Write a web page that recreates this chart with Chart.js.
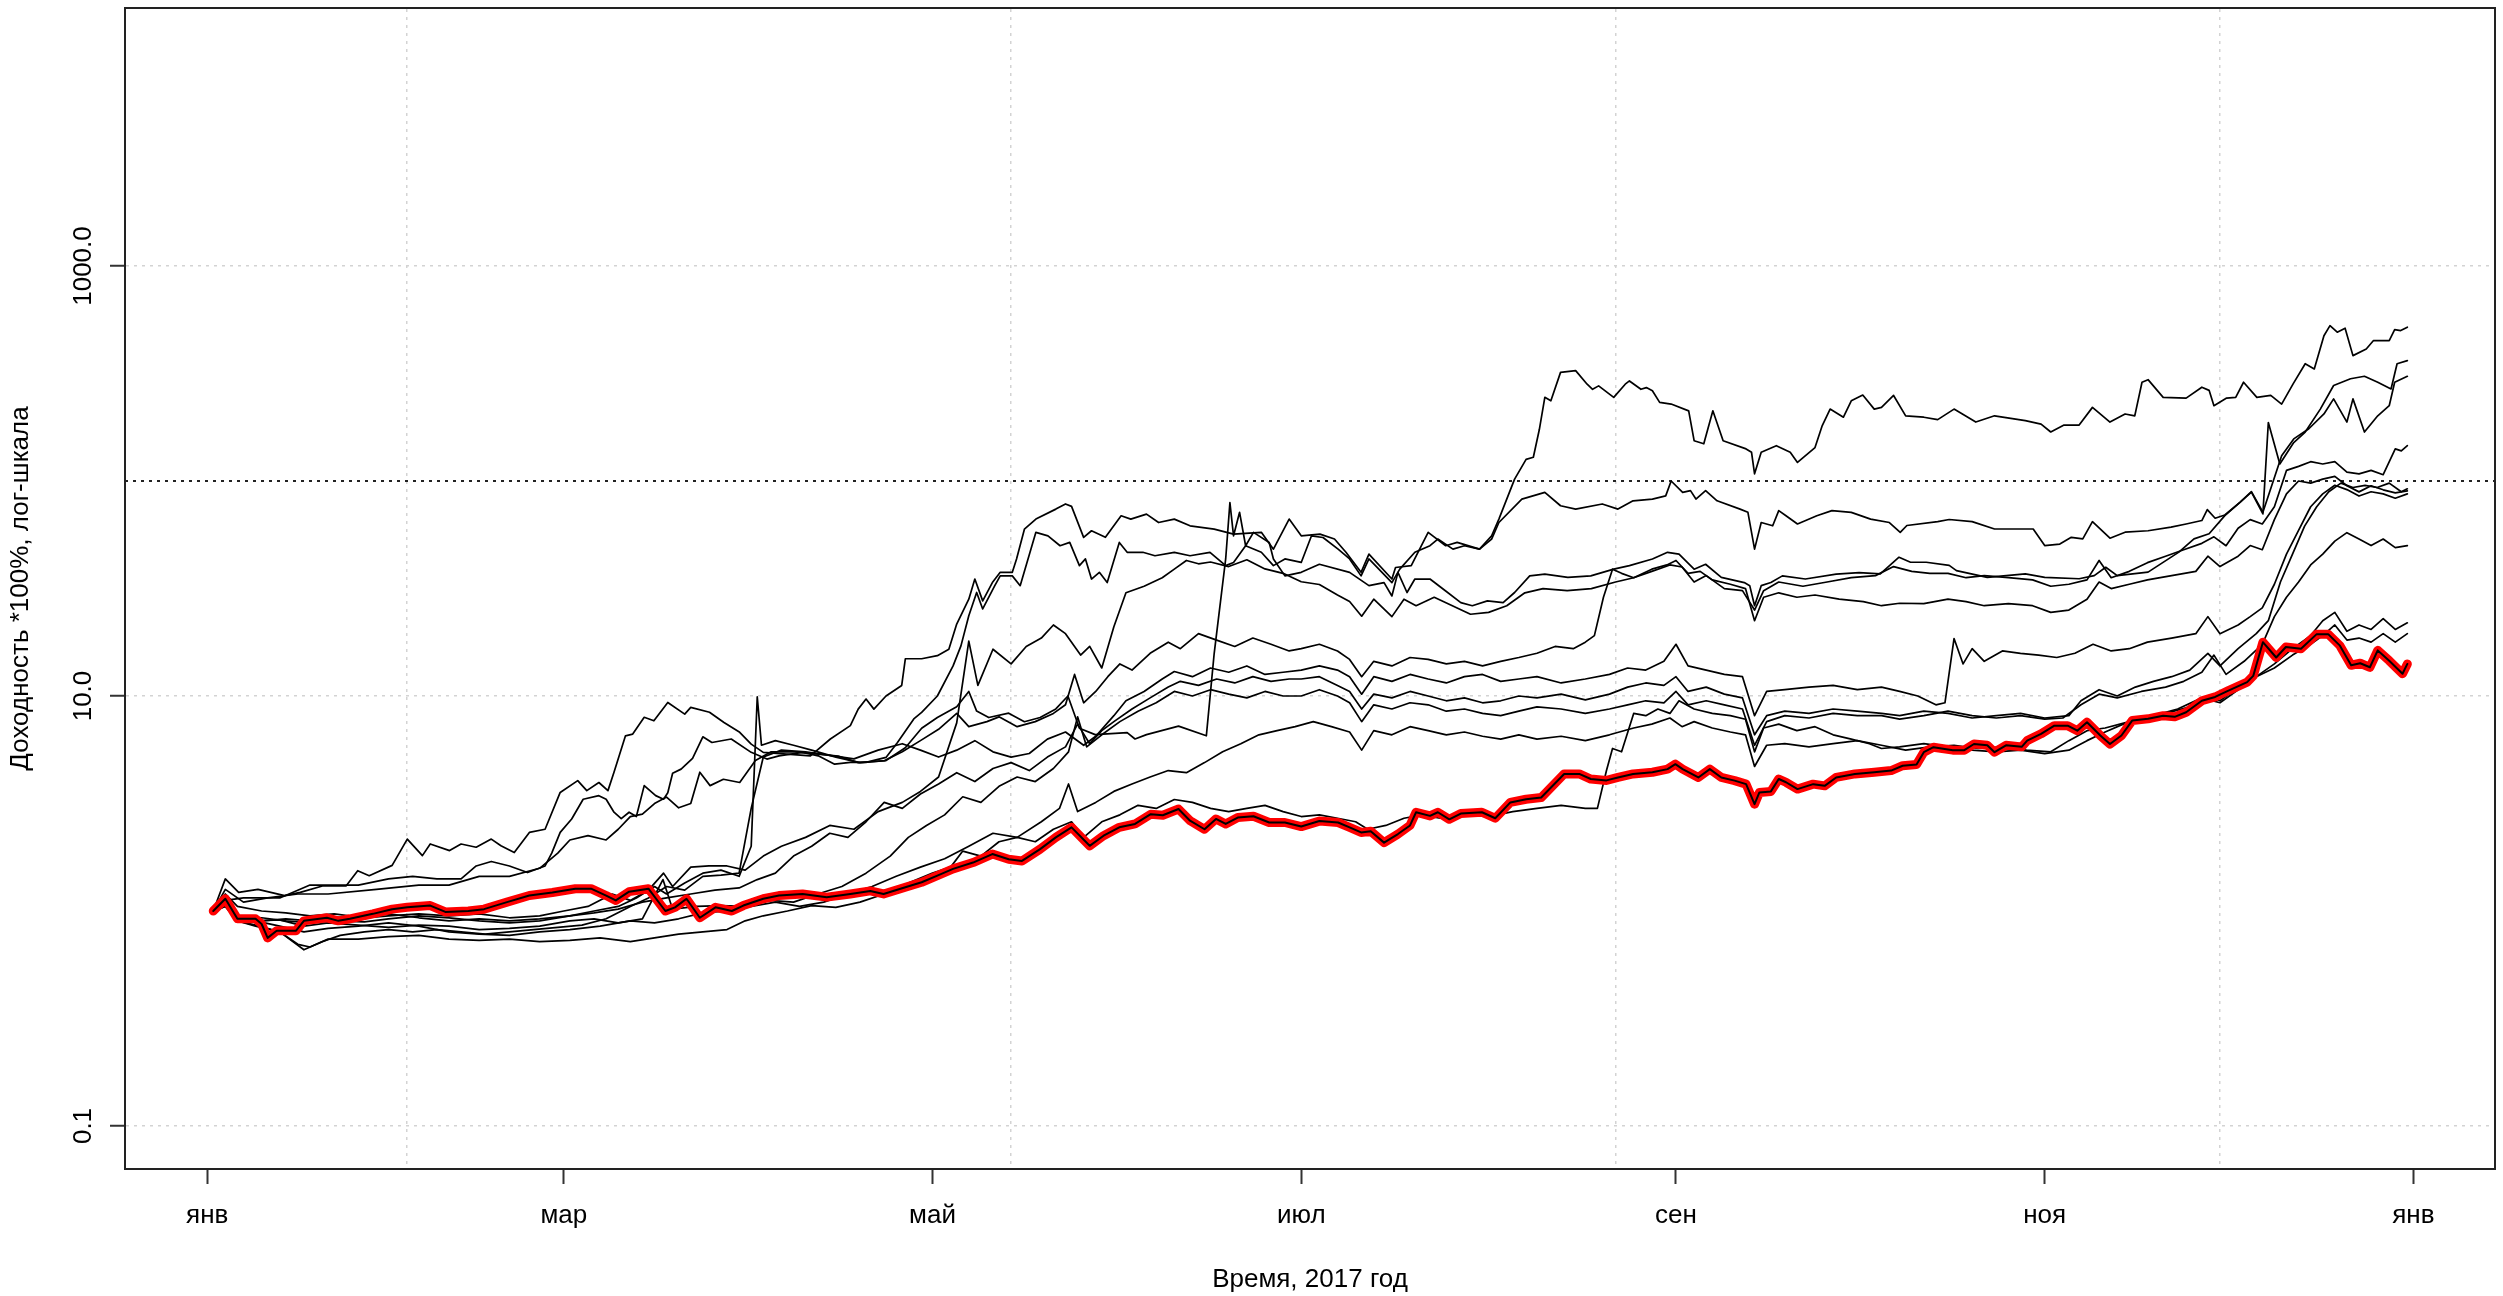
<!DOCTYPE html>
<html>
<head>
<meta charset="utf-8">
<script src="https://cdn.jsdelivr.net/npm/chart.js@4.4.1/dist/chart.umd.min.js"></script>
<style>
  html, body { margin: 0; padding: 0; background: #fff; }
  #wrap { width: 2503px; height: 1296px; }
</style>
</head>
<body>
<div id="wrap"><canvas id="chart" width="2503" height="1296"></canvas></div>
<script>
// x = days since 1 Jan 2017, y = return *100% (log scale)
const monthDays = [0, 59, 120, 181, 243, 304, 365];
const monthLabels = ['янв', 'мар', 'май', 'июл', 'сен', 'ноя', 'янв'];
const gridDays = [33, 133, 233, 333];
const yTickValues = [0.1, 10, 1000];
const dayRange = [-13.6, 378.5];
const valueRange = [0.0631, 15849];
const refLevel = 100;

const portfolio = [[1,1.0],[3,1.14],[5,0.92],[8,0.92],[9,0.87],[10,0.75],[11.5,0.81],[14.7,0.81],[16,0.9],[19.8,0.93],[21.7,0.9],[23.6,0.92],[27.4,0.97],[30.6,1.02],[33.1,1.04],[36.9,1.06],[39.4,0.99],[43.2,1.0],[45.8,1.02],[49.6,1.1],[53.3,1.18],[57.1,1.22],[60.9,1.27],[63.5,1.27],[66,1.18],[67.6,1.12],[69.8,1.23],[73,1.27],[75.8,1.0],[77.4,1.04],[79.3,1.14],[81.5,0.93],[84.1,1.04],[86.8,1.0],[88.7,1.06],[92,1.14],[94.6,1.18],[98.5,1.2],[102.5,1.16],[106.4,1.2],[109.7,1.24],[111.9,1.2],[115.5,1.29],[118.2,1.36],[120.8,1.46],[123.4,1.57],[126.7,1.68],[129.9,1.84],[132.6,1.74],[134.8,1.71],[137.8,1.94],[140.4,2.2],[143,2.45],[146,2.01],[148.3,2.24],[150.9,2.45],[153.5,2.54],[156.1,2.82],[158.1,2.79],[160.7,2.98],[162.6,2.63],[165,2.4],[166.9,2.68],[168.5,2.54],[170.5,2.72],[173.1,2.76],[175.7,2.58],[178.3,2.58],[181,2.47],[184,2.62],[187.1,2.58],[189,2.45],[190.9,2.32],[192.5,2.35],[194.7,2.08],[197,2.28],[199,2.5],[200,2.88],[202.3,2.77],[203.6,2.88],[205.5,2.67],[207.4,2.84],[210.9,2.88],[213.1,2.7],[215.6,3.2],[218.2,3.31],[220.7,3.37],[224.5,4.34],[227,4.34],[228.9,4.11],[231.5,4.05],[233.4,4.18],[235.9,4.34],[239.1,4.42],[241.6,4.57],[242.9,4.82],[244.1,4.57],[246.7,4.18],[248.6,4.57],[250.5,4.18],[252.7,4.04],[254.6,3.89],[256,3.14],[256.8,3.56],[258.7,3.6],[260,4.11],[261.2,3.97],[263.1,3.69],[265.7,3.89],[267.6,3.82],[269.5,4.18],[272.6,4.34],[275.8,4.42],[278.6,4.5],[280.5,4.74],[282.8,4.8],[284,5.48],[285.6,5.78],[288.8,5.6],[290.7,5.6],[292.3,5.98],[294.5,5.9],[295.7,5.48],[297.6,5.9],[300.2,5.8],[301.1,6.2],[303.4,6.67],[305.6,7.28],[307.8,7.28],[309.4,6.9],[311,7.55],[313.2,6.55],[314.8,5.98],[316.7,6.55],[318.5,7.7],[321.1,7.83],[323.6,8.1],[325.5,8.0],[327.4,8.4],[330,9.5],[332.2,9.9],[334.4,10.6],[337.5,11.6],[338.5,12.4],[340.1,17.8],[342.3,15.1],[343.9,16.9],[346.4,16.6],[349,19.4],[350.9,19.4],[352.8,17.2],[354.7,13.9],[356.2,14.2],[357.8,13.6],[359.1,16.3],[361,14.6],[363.2,12.7],[364,14.1]];

const fundA = [[1,1.0],[3,1.41],[5.2,1.22],[8.4,1.26],[12.8,1.18],[15.4,1.22],[19.2,1.31],[23,1.31],[24.9,1.54],[26.8,1.46],[30.6,1.63],[33.1,2.16],[35.6,1.81],[36.9,2.05],[40.1,1.91],[42,2.05],[44.5,1.98],[47,2.16],[48.6,2.01],[50.8,1.87],[53.3,2.32],[55.9,2.4],[58.4,3.56],[61.3,4.04],[62.8,3.63],[64.8,3.96],[66.3,3.63],[67.3,4.42],[69.2,6.53],[70.4,6.65],[72.3,7.96],[73.9,7.67],[76.2,9.33],[79,8.24],[80,8.85],[83.1,8.4],[85.5,7.53],[88.1,6.78],[90,5.97],[92,5.47],[95.9,5.37],[99.8,5.27],[103.1,6.31],[106.4,7.28],[107.7,8.69],[109,9.68],[110.3,8.69],[112.3,10.0],[114.9,11.2],[115.5,14.9],[118.2,14.9],[120.8,15.4],[122.7,16.5],[124,21.6],[126,28.2],[127,35.0],[128.3,27.7],[129.9,33.7],[131.2,37.6],[133.2,37.6],[133.9,43.4],[135.2,59.7],[137.1,66.5],[140.4,74.0],[142,78.2],[143,76.2],[145,54.7],[146.3,58.7],[148.6,54.7],[151.2,68.9],[152.8,66.5],[155.4,70.1],[157.4,64.1],[160,66.5],[162.6,61.9],[166.6,59.7],[169.8,56.6],[174.4,57.7],[176.4,48.2],[179,66.5],[181,55.6],[184.1,56.6],[186.5,53.7],[188.4,46.6],[190.9,37.6],[192.2,45.7],[196,35.0],[196.6,39.6],[199.2,40.4],[202,57.7],[204.9,50.0],[206.8,51.8],[210.5,48.2],[212.5,55.6],[213.7,66.5],[216.3,102],[218.2,126],[219.4,129],[220.4,174],[221.3,245],[222.3,236],[223.9,320],[226.4,326],[228.3,282],[229.2,267],[230.2,277],[232.7,245],[234.6,282],[235.3,292],[237.2,267],[238.1,272],[239.1,263],[240.3,232],[242.2,228],[245.1,212],[246,154],[247.6,149],[249.1,212],[250.8,154],[254.6,141],[255.5,136],[256,108],[257.1,136],[259.6,146],[261.9,136],[263.1,122],[266,143],[267.2,181],[268.5,216],[270.7,198],[272,236],[273.9,251],[275.8,216],[277,220],[279,250],[281,201],[284,198],[286.3,193],[289,216],[292.6,188],[295.7,201],[300.8,191],[303.4,184],[305,169],[307.2,182],[309.7,182],[311.9,220],[314.8,188],[317.3,205],[318.9,201],[320.1,288],[321.1,296],[323.6,245],[327.4,243],[330,273],[331.2,264],[332,224],[334.1,243],[335.6,245],[336.9,288],[339.1,245],[341.4,250],[343.2,228],[345.1,283],[347.1,351],[348.6,332],[350.2,474],[351.2,528],[352.4,492],[353.7,514],[355,383],[357.2,411],[358.4,450],[361,450],[361.9,506],[362.9,501],[364,519]];

const fundB = [[1,1.0],[3,1.12],[6,1.15],[12,1.15],[17,1.32],[20,1.32],[25,1.32],[30,1.41],[34,1.45],[38,1.41],[42,1.41],[44.5,1.62],[47,1.7],[50,1.62],[53,1.51],[55.9,1.62],[57,1.86],[58.4,2.32],[60.3,2.68],[62.2,3.31],[64.8,3.44],[66,3.31],[67.3,2.88],[68.5,2.69],[69.8,2.88],[71,2.75],[72.3,3.83],[74.2,3.44],[75.5,3.31],[76.2,3.55],[77,4.37],[78.4,4.57],[80.3,5.13],[82,6.46],[83.5,6.08],[86.7,6.31],[90,5.47],[92.6,5.09],[94.6,5.27],[98.5,5.47],[101.1,5.27],[103.8,4.82],[106.4,4.91],[109,4.91],[112.3,5.18],[114.2,6.08],[116.9,7.82],[118.2,8.39],[120.8,10.0],[123.4,13.8],[124.7,17.1],[126,23.6],[127.3,30.3],[128.3,25.4],[130.3,32.6],[131.2,36.2],[133.2,36.2],[134.5,32.6],[137.1,57.7],[139.1,55.6],[141.1,50.0],[142.7,51.8],[144.3,40.4],[145.3,43.4],[146.3,35.0],[147.6,37.6],[148.9,33.7],[150.9,51.8],[152.2,46.6],[154.8,46.6],[156.8,44.9],[160,46.6],[162.6,44.9],[165.9,46.6],[168.5,40.4],[169.8,41.8],[171.8,50.0],[174.4,46.6],[176.4,40.4],[178.3,43.4],[181,41.8],[182.7,55.6],[184.6,54.6],[187.1,48.2],[189,43.4],[190.9,36.2],[192.2,43.4],[196,33.7],[197.3,38.9],[199.8,46.6],[202.3,50.0],[203.6,53.7],[206.1,48.2],[208,50.0],[210.5,48.2],[212.5,53.7],[213.7,64.1],[217.5,82.4],[221.3,88.5],[223.9,76.7],[226.4,74.0],[230.8,78.2],[233.4,74.0],[235.9,80.9],[239.1,82.4],[241.3,85.3],[242.2,100],[244.1,88.5],[245.4,90.2],[246.3,82.4],[247.9,90.2],[249.8,80.9],[253.6,74.0],[254.9,71.5],[256,48.2],[257.1,64.1],[259,61.9],[260,72.8],[261.2,68.9],[263.1,63.1],[266.3,68.9],[268.8,72.8],[272,71.5],[275.2,66.5],[278.3,64.1],[280.1,57.7],[281.2,62.1],[286.3,64.7],[288.2,66.2],[292,64.7],[295.7,59.8],[302.1,59.8],[304,50.1],[306.5,50.9],[308.4,54.7],[310.3,53.8],[311.9,64.7],[314.8,54.2],[317.3,57.8],[321.1,58.7],[324.9,61.0],[327.4,63.1],[330,65.5],[330.9,73.6],[332.2,67.1],[333.8,69.5],[336.3,79.6],[338.2,88.7],[340.1,70.3],[341,187],[342.9,120],[345.2,151],[347.1,169],[349.6,216],[351.8,278],[354.6,299],[356.9,307],[359.1,288],[361.3,268],[362.3,351],[364,363]];

const fundC = [[1,1.0],[3,1.26],[6,1.1],[10,1.15],[15,1.2],[20,1.2],[28,1.26],[35,1.32],[40,1.32],[45,1.45],[50,1.45],[55,1.58],[58,1.86],[60,2.14],[63,2.24],[66,2.14],[68,2.4],[70,2.75],[72,2.82],[74,3.16],[76,3.39],[78,3.02],[80,3.16],[81.5,4.42],[83.2,3.83],[85.4,4.1],[88.1,3.96],[90.7,5.01],[93.3,5.5],[97.2,5.5],[101.1,5.37],[104.4,5.25],[107.7,4.9],[112.3,5.01],[115.5,5.75],[118.2,7.08],[120.8,7.94],[124,8.91],[126,10.5],[127.3,8.51],[129.3,7.94],[132.6,8.32],[135.2,7.59],[137.8,7.94],[140.4,8.71],[142.4,10.0],[144.3,7.08],[146.9,6.61],[152.2,6.76],[153.5,6.31],[155.4,6.61],[160.7,7.24],[165.3,6.53],[166.6,15.8],[168.5,43.4],[169.2,79.4],[169.8,55.6],[170.8,71.5],[171.8,50.0],[173.1,57.7],[175.7,51.8],[176.4,43.4],[178.3,36.2],[181,37.6],[184,41.0],[189,37.6],[192.2,32.6],[194.7,33.7],[196,29.2],[197,37.6],[198.5,30.3],[199.8,35.0],[202.3,35.0],[204.9,30.8],[207.4,27.2],[209.3,26.3],[211.8,27.7],[214.4,27.2],[216.3,30.3],[218.8,36.2],[221.3,36.9],[225.1,35.6],[228.9,36.2],[232.7,38.9],[235.3,40.4],[239.1,43.4],[241.6,46.6],[243.5,45.7],[246,38.9],[247.9,41.0],[250.5,35.6],[254.3,33.7],[255.2,32.6],[256,26.3],[257.1,32.6],[258.7,33.7],[260.6,36.2],[264.4,35.0],[269.5,36.9],[273.3,37.5],[276.8,37.0],[279.9,44.2],[281.8,41.9],[284.4,41.9],[288.2,40.5],[289.4,38.3],[294.5,35.6],[300.8,37.0],[304,35.6],[309.7,35.1],[312.2,36.3],[314.1,39.7],[316,36.3],[321.1,37.7],[326.2,46.7],[328.7,53.8],[331.2,56.8],[333.8,69.0],[336.3,79.6],[338.2,89.3],[340.1,71.6],[343.2,131],[345.2,157],[347.7,175],[350.2,205],[351.8,241],[354,188],[355,241],[356.9,169],[359.1,201],[361,224],[361.9,288],[364,307]];

const fundD = [[1,1.0],[3,1.2],[5,1.05],[9,1.0],[13,0.98],[17,0.95],[21,0.97],[26,0.93],[30,0.95],[35,0.97],[40,0.95],[45,0.97],[50,0.93],[55,0.95],[59,1.0],[63,1.05],[67,1.2],[70,1.12],[73,1.25],[75.5,1.5],[77,1.3],[80,1.6],[83,1.62],[86,1.62],[89,1.55],[92,1.8],[95,2.0],[99,2.2],[103,2.5],[107,2.4],[111,2.9],[115,3.2],[118,3.6],[121,4.2],[124,7.5],[126,18.0],[127.5,11.2],[130,16.5],[133,14.1],[135.5,17.0],[138,18.6],[140,21.4],[142,19.5],[144.5,15.5],[146,17.0],[148,13.5],[150,21.0],[152,30.2],[155,32.4],[158,35.5],[160,38.9],[162,42.7],[164,41.2],[166,42.0],[169,40.0],[172,43.0],[175,39.0],[178,37.2],[181,34.0],[184,33.0],[187,29.5],[189,27.5],[191,23.5],[193,28.2],[196,23.4],[198,28.2],[200,26.3],[203,28.8],[206,26.3],[209,24.0],[212,24.5],[215,26.3],[218,30.2],[221,31.6],[225,30.9],[229,31.6],[233,33.9],[236,35.5],[239,38.0],[242,40.7],[244,39.8],[246,33.9],[248,36.3],[251,31.6],[254,30.9],[256,25.1],[257.5,30.9],[260,33.9],[264,32.4],[268,33.9],[272,35.5],[276,36.3],[279,40.0],[282,38.0],[285,37.2],[288,37.2],[291,35.5],[294,36.3],[298,35.5],[302,34.7],[305,32.4],[308,33.1],[311,34.7],[313,42.7],[315,35.5],[318,38.0],[321,41.7],[324,44.7],[327,47.9],[330,51.3],[332,55.0],[334,50.0],[336,60.3],[338,66.1],[340,63.1],[342,75.9],[344,112],[346,117],[348,123],[350,120],[352,123],[354,110],[356,108],[358,112],[360,107],[362,141],[363,138],[364,146]];

const fundE = [[1,1.0],[3,1.1],[5,0.95],[9,0.93],[13,0.9],[17,0.88],[21,0.9],[26,0.89],[30,0.92],[35,0.95],[40,0.93],[45,0.9],[50,0.88],[55,0.9],[60,0.95],[64,1.0],[68,1.05],[71,1.15],[74,1.3],[76,1.2],[79,1.35],[82,1.5],[85,1.55],[88,1.45],[90,2.0],[91,9.9],[91.7,5.9],[94,6.2],[97,5.9],[100,5.6],[104,5.2],[108,4.9],[112,5.0],[115,5.5],[118,6.2],[121,7.0],[124,8.3],[126,7.2],[129,7.6],[131,8.0],[134,7.2],[137,7.6],[140,8.3],[142,9.1],[143.5,12.6],[145,9.3],[147,10.5],[149,12.3],[151,14.1],[153,13.2],[156,15.8],[159,17.8],[161,16.6],[164,19.5],[167,18.2],[170,17.0],[173,18.6],[176,17.4],[179,16.2],[181,16.6],[184,17.4],[187,16.2],[189,14.8],[191,12.3],[193,14.5],[196,13.8],[199,15.1],[202,14.8],[205,14.1],[208,14.5],[211,13.8],[214,14.5],[217,15.1],[220,15.8],[223,17.0],[226,16.6],[228,17.8],[229.5,19.1],[231,28.8],[232.5,38.9],[234,37.2],[236,35.5],[239,38.9],[241.5,40.7],[243,42.7],[245,37.2],[247,38.0],[249,34.7],[252,33.1],[254.5,31.6],[256,22.4],[257.5,28.8],[260,30.2],[263,28.8],[266,29.5],[270,28.2],[274,27.5],[277,26.3],[280,27.0],[284,26.9],[288,28.2],[291,27.5],[294,26.3],[298,26.9],[302,26.3],[305,24.5],[308,25.1],[311,28.2],[313,33.9],[315,31.6],[318,33.1],[321,34.7],[325,36.3],[329,38.0],[331,44.7],[333,40.0],[336,44.7],[338,50.1],[340,47.9],[342,66.1],[344,87.1],[346,100],[348,97.7],[350,102],[352,105],[354,95],[356,89],[358,95],[360,91],[362,88],[364,90]];

const fundF = [[1,1.0],[3,1.05],[5,0.9],[8,0.86],[12,0.8],[16,0.66],[19,0.72],[22,0.77],[26,0.8],[30,0.82],[34,0.8],[38,0.82],[42,0.8],[46,0.78],[50,0.8],[54,0.82],[58,0.84],[62,0.86],[66,0.92],[70,1.05],[73,1.15],[76,1.3],[79,1.25],[82,1.45],[85,1.47],[88,1.5],[90,3.0],[92,5.2],[95,5.6],[99,5.5],[103,5.3],[107,5.1],[111,5.6],[115,6.0],[118,5.6],[121,5.2],[124,5.6],[127,6.2],[130,5.5],[133,5.2],[136,5.4],[139,6.3],[142,6.8],[145,5.9],[147,6.5],[150,8.1],[152,9.5],[155,10.5],[158,12.0],[160,13.0],[163,12.3],[166,13.5],[169,12.9],[172,13.8],[175,12.6],[178,12.9],[181,13.2],[184,13.8],[187,13.2],[189,12.3],[191,10.2],[193,12.3],[196,11.7],[199,12.6],[202,12.0],[205,11.5],[208,12.3],[211,12.6],[214,11.7],[217,12.0],[220,12.3],[224,11.5],[228,12.0],[232,12.6],[235,13.5],[238,13.2],[241,14.5],[243,17.4],[245,13.8],[248,13.2],[251,12.6],[254,12.3],[256,8.1],[258,10.5],[261,10.7],[265,11.0],[269,11.2],[273,10.7],[277,11.0],[280,10.5],[283,10.0],[286,9.1],[287.5,9.3],[289,18.5],[290.5,14.1],[292,16.6],[294,14.5],[297,16.2],[300,15.8],[303,15.5],[306,15.1],[309,15.8],[312,17.4],[315,16.2],[318,16.6],[321,17.8],[325,18.6],[329,19.5],[331,23.4],[333,19.5],[336,21.4],[338,23.4],[340,25.7],[342,33.1],[344,45.7],[346,58.9],[348,75.9],[350,87.1],[352,95.5],[354,91.2],[356,85.1],[358,89.1],[360,87.1],[362,83.2],[364,87.1]];

const fundK = [[1,1.0],[3,1.08],[5,0.93],[9,0.9],[13,0.92],[17,0.9],[21,0.93],[26,0.95],[30,0.97],[35,0.93],[40,0.9],[45,0.92],[50,0.9],[55,0.92],[60,0.95],[64,0.98],[68,1.02],[72,1.1],[76,1.15],[80,1.2],[84,1.25],[88,1.28],[91,1.4],[94,1.5],[97,1.8],[100,2.0],[103,2.3],[106,2.2],[109,2.6],[112,3.2],[115,3.0],[118,3.5],[121,3.9],[124,4.4],[127,4.0],[130,4.6],[133,4.9],[136,4.5],[139,5.2],[142,5.8],[144,7.4],[146,6.0],[148,6.9],[150,7.6],[153,8.7],[156,9.8],[159,11.0],[161,11.7],[164,11.2],[167,12.0],[170,11.5],[173,12.3],[176,11.7],[179,12.0],[181,12.0],[184,12.3],[187,11.2],[189,10.5],[191,8.7],[193,10.2],[196,9.8],[199,10.5],[202,10.0],[205,9.5],[208,9.8],[211,9.3],[214,9.5],[217,10.0],[220,9.8],[224,10.2],[228,9.6],[232,10.2],[235,11.0],[238,11.5],[241,11.2],[243,12.3],[245,10.5],[248,11.0],[251,10.2],[254,9.8],[256,6.6],[258,8.1],[261,8.5],[265,8.3],[269,8.7],[273,8.5],[277,8.3],[280,8.1],[284,8.5],[288,8.3],[292,7.9],[296,8.1],[300,8.3],[304,7.9],[308,8.1],[310,9.5],[313,10.7],[316,10.0],[319,11.0],[322,11.7],[325,12.3],[328,13.2],[331,15.8],[333,13.8],[336,16.6],[339,19.5],[341,22.4],[343,33.9],[345,45.7],[347,61.7],[349,75.9],[351,89.1],[353,97.7],[355,93.3],[357,95.5],[359,93.3],[361,97.7],[363,89.1],[364,92]];

const fundG = [[1,1.0],[3,1.15],[5,0.93],[8,0.9],[12,0.91],[16,0.85],[20,0.88],[25,0.86],[30,0.84],[35,0.86],[40,0.85],[45,0.82],[50,0.83],[55,0.85],[60,0.9],[64,0.92],[68,0.88],[72,0.92],[75.4,1.4],[77,1.02],[81,1.05],[85,1.06],[89,1.05],[93,1.12],[97,1.1],[101,1.2],[105,1.3],[109,1.5],[113,1.8],[116,2.2],[119,2.5],[122,2.8],[125,3.4],[128,3.2],[131,3.8],[134,4.2],[137,4.0],[140,4.6],[142.5,5.5],[144,8.0],[145.5,5.8],[148,6.6],[151,7.6],[154,8.5],[157,9.3],[160,10.5],[163,10.0],[166,10.7],[169,10.2],[172,9.8],[175,10.5],[178,10.0],[181,10.0],[184,10.7],[187,10.0],[189,9.3],[191,7.6],[193,9.1],[196,8.7],[199,9.3],[202,9.1],[205,8.5],[208,8.7],[211,8.3],[214,8.1],[217,8.5],[220,8.9],[224,8.7],[228,8.3],[232,8.7],[235,9.1],[238,9.5],[241,9.3],[243,10.5],[245,9.1],[248,9.5],[251,9.1],[254,8.7],[256,5.9],[258,7.6],[261,8.1],[265,7.9],[269,8.3],[273,8.1],[277,8.1],[280,7.8],[284,8.1],[288,8.5],[292,8.1],[296,7.9],[300,8.1],[304,7.8],[307,7.9],[310,9.1],[313,10.2],[316,9.8],[320,10.5],[324,11.0],[327,11.7],[330,12.9],[332,15.5],[334,12.6],[337,14.5],[340,17.4],[342,23.4],[344,28.8],[346,33.9],[348,40.7],[350,45.7],[352,52.5],[354,57.5],[356,53.7],[358,50.1],[360,53.7],[362,49.0],[364,50.1]];

const fundH = [[1,1.0],[3,1.1],[5,0.95],[8,0.9],[12,0.85],[16,0.8],[20,0.83],[25,0.85],[30,0.88],[35,0.85],[40,0.8],[45,0.78],[50,0.77],[55,0.8],[60,0.82],[65,0.85],[70,0.9],[74,0.88],[78,0.92],[82,0.98],[86,1.0],[90,1.05],[94,1.1],[98,1.05],[102,1.1],[106,1.2],[110,1.3],[114,1.45],[118,1.6],[122,1.75],[126,2.0],[130,2.3],[134,2.2],[138,2.6],[141,3.0],[142.5,3.9],[144,2.9],[147,3.2],[150,3.6],[153,3.9],[156,4.2],[159,4.5],[162,4.4],[165,4.9],[168,5.5],[171,6.0],[174,6.6],[177,6.9],[180,7.2],[183,7.6],[186,7.2],[189,6.8],[191,5.6],[193,6.9],[196,6.6],[199,7.2],[202,6.9],[205,6.6],[208,6.8],[211,6.5],[214,6.3],[217,6.6],[220,6.3],[224,6.5],[228,6.2],[232,6.6],[236,7.1],[239,7.4],[242,7.9],[244,7.2],[246,7.6],[249,7.1],[252,6.8],[254.5,6.6],[256,4.7],[258,5.9],[261,6.0],[265,5.8],[269,6.0],[273,6.2],[277,5.9],[281,5.6],[285,5.8],[289,5.9],[293,5.7],[297,5.8],[301,5.6],[305,5.5],[308,6.2],[311,6.9],[314,7.1],[318,7.6],[322,8.1],[326,8.7],[330,9.8],[333,9.3],[336,10.7],[339,12.3],[342,14.1],[345,16.6],[348,19.1],[350,22.4],[352,24.5],[354,20.0],[356,21.4],[358,20.4],[360,22.9],[362,20.4],[364,21.9]];

const fundI = [[1,1.0],[3,1.05],[5,0.9],[8,0.85],[12,0.8],[15,0.7],[17,0.68],[20,0.74],[25,0.74],[30,0.76],[35,0.77],[40,0.74],[45,0.73],[50,0.74],[55,0.72],[60,0.73],[65,0.75],[70,0.72],[74,0.75],[78,0.78],[82,0.8],[86,0.82],[89,0.9],[92,0.95],[96,1.0],[100,1.06],[104,1.04],[108,1.1],[112,1.2],[116,1.35],[120,1.5],[123,1.6],[125,1.9],[128,1.8],[131,2.1],[134,2.2],[137,2.1],[140,2.4],[143,2.6],[145,2.2],[148,2.6],[151,2.8],[154,3.1],[157,3.0],[160,3.3],[163,3.2],[166,3.0],[169,2.9],[172,3.0],[175,3.1],[178,2.9],[181,2.75],[184,2.8],[187,2.7],[190,2.6],[192,2.4],[195,2.5],[198,2.7],[201,2.8],[204,2.7],[208,2.8],[212,2.75],[216,2.9],[220,3.0],[224,3.1],[228,3.0],[230,3.0],[231.5,4.5],[232.5,5.7],[234,5.5],[236,8.3],[238,8.1],[240,8.7],[242,8.3],[243.5,9.5],[246,8.7],[249,8.3],[252,8.1],[254.5,7.8],[256,5.5],[257.5,7.1],[260,7.4],[263,6.9],[266,7.2],[269,6.6],[272,6.3],[275,6.0],[277,5.7],[280,5.8],[284,6.0],[288,5.8],[292,5.6],[296,5.5],[300,5.6],[304,5.4],[308,5.6],[311,6.2],[314,6.8],[317,7.4],[320,7.8],[324,8.3],[328,8.9],[331,10.0],[333,9.5],[336,11.0],[339,12.3],[342,13.5],[345,15.5],[348,17.4],[350,19.1],[352,21.4],[354,18.2],[356,18.6],[358,17.8],[360,19.5],[362,17.8],[364,19.5]];

const funds = [fundA, fundB, fundC, fundD, fundE, fundF, fundK, fundG, fundH, fundI];

Chart.defaults.font.family = "'Liberation Sans', Arial, sans-serif";
Chart.defaults.color = '#000';

const line = (data, color, width, extra) => Object.assign({
  data, borderColor: color, borderWidth: width, pointRadius: 0, tension: 0, fill: false,
  borderJoinStyle: 'round', borderCapStyle: 'round'
}, extra || {});

const datasets = [
  line(portfolio, '#000', 2),
  line(portfolio, '#ff0000', 9),
  ...funds.map(f => line(f, '#000', 1.7)),
  line([[dayRange[0], refLevel], [dayRange[1], refLevel]], '#222', 2, { borderDash: [3, 5], borderCapStyle: 'butt' })
];

const axisFont = { size: 26 };

new Chart(document.getElementById('chart'), {
  type: 'line',
  data: { datasets },
  options: {
    responsive: false,
    animation: false,
    devicePixelRatio: 1,
    events: [],
    layout: { padding: { top: 8, right: 8, left: 0, bottom: 0 } },
    plugins: { legend: { display: false }, tooltip: { enabled: false } },
    scales: {
      x: {
        type: 'linear', position: 'bottom', min: dayRange[0], max: dayRange[1],
        afterBuildTicks: s => { s.ticks = monthDays.map(v => ({ value: v })); },
        afterFit: s => { s.height = 127; },
        ticks: {
          callback: (v, i) => monthLabels[i], font: axisFont, color: '#000',
          padding: 16, maxRotation: 0, autoSkip: false
        },
        grid: { drawOnChartArea: false, drawTicks: true, tickLength: 15, tickColor: '#333', tickWidth: 2 },
        border: { display: true, color: '#222', width: 2 },
        title: { display: true, text: 'Время, 2017 год', font: axisFont, color: '#000', padding: { top: 0, bottom: 1 } }
      },
      xGrid: {
        type: 'linear', position: 'top', min: dayRange[0], max: dayRange[1],
        afterBuildTicks: s => { s.ticks = gridDays.map(v => ({ value: v })); },
        afterFit: s => { s.height = 0; },
        ticks: { display: false },
        grid: { color: '#d3d3d3', lineWidth: 1.5, drawTicks: false },
        border: { display: true, color: '#222', width: 2, dash: [3, 5] }
      },
      y: {
        type: 'logarithmic', position: 'left', min: valueRange[0], max: valueRange[1], bounds: 'data',
        afterBuildTicks: s => { s.ticks = yTickValues.map(v => ({ value: v })); },
        afterFit: s => { s.width = 125; },
        ticks: {
          callback: v => Number(v).toFixed(1), font: axisFont, color: '#000',
          minRotation: 90, maxRotation: 90, crossAlign: 'center', padding: -14, autoSkip: false
        },
        grid: { color: '#d3d3d3', lineWidth: 1.5, drawTicks: true, tickLength: 15, tickColor: '#333', tickWidth: 2, tickBorderDash: [] },
        border: { display: true, color: '#222', width: 2, dash: [3, 5] },
        title: { display: true, text: 'Доходность *100%, лог-шкала', font: axisFont, color: '#000', padding: { top: 5, bottom: 0 } }
      },
      yRight: {
        type: 'logarithmic', position: 'right', min: valueRange[0], max: valueRange[1], bounds: 'data',
        afterFit: s => { s.width = 0; },
        ticks: { display: false },
        grid: { drawOnChartArea: false, drawTicks: false },
        border: { display: true, color: '#222', width: 2 }
      }
    }
  }
});
</script>
</body>
</html>
